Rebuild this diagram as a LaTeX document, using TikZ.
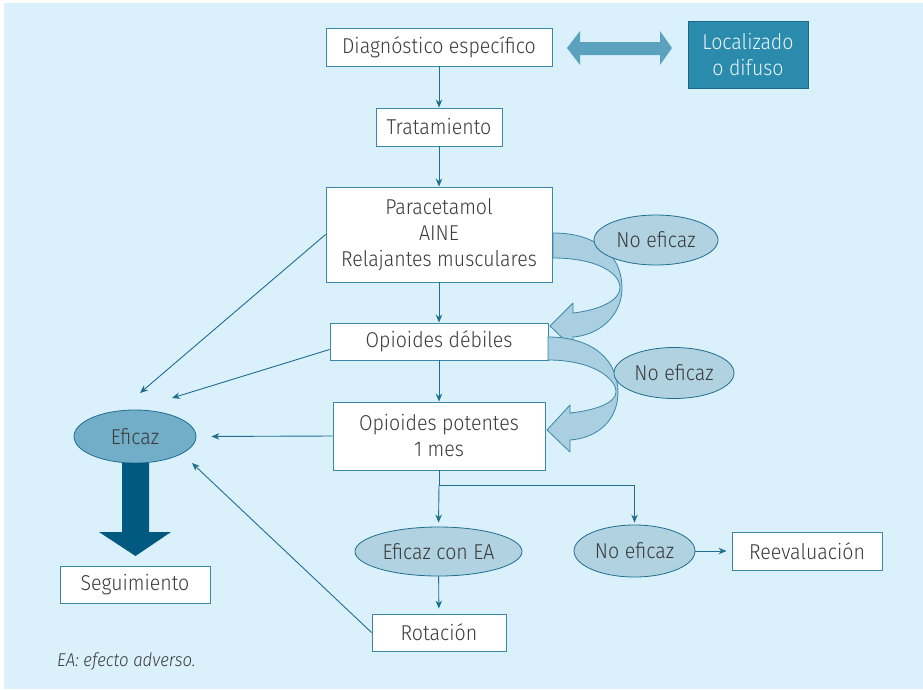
\documentclass[tikz,border=0pt]{standalone}
\usepackage{fontspec}
\setmainfont{Fira Sans}[UprightFont={* Light},ItalicFont={* Light Italic},FakeStretch=0.91]
\usetikzlibrary{arrows.meta,shapes.geometric,calc}
\definecolor{bgblue}{HTML}{DAF1FC}
\definecolor{boxline}{HTML}{3A87A9}
\definecolor{conn}{HTML}{1F6E8F}
\definecolor{ellfill}{HTML}{B0D2E1}
\definecolor{effill}{HTML}{72AEC8}
\definecolor{bigarrow}{HTML}{005A80}
\definecolor{locfill}{HTML}{2A8BAD}
\definecolor{locline}{HTML}{1A6888}
\definecolor{txt}{HTML}{3A3A3A}
\definecolor{dbl}{HTML}{5AA2BE}
\definecolor{band}{HTML}{A9CFE0}
\definecolor{bandline}{HTML}{3A86A8}
\tikzset{
  stepbox/.style={draw=boxline,line width=0.9pt,fill=white,text=txt,inner sep=0pt,
    font=\fontsize{21.5}{26}\selectfont,align=center},
  oval/.style={ellipse,draw=conn,line width=0.8pt,fill=ellfill,text=txt,inner sep=0pt,
    font=\fontsize{21.5}{26}\selectfont},
  arr/.style={draw=conn,line width=0.9pt,-{Stealth[length=8pt,width=6.5pt]}},
  bandarrow/.style={fill=band,draw=bandline,line width=0.8pt,line join=round},
}
\begin{document}
\begin{tikzpicture}[x=1pt,y=-1pt]
\useasboundingbox (0,0) rectangle (923,689);
\fill[white] (0,0) rectangle (923,689);
\fill[bgblue] (4,3) rectangle (923,689);

% main column of steps
\node[stepbox,minimum width=226pt,minimum height=38pt] (diag) at (439,47) {Diagnóstico específico};
\node[stepbox,minimum width=126pt,minimum height=38pt] (trat) at (439,127) {Tratamiento};
\node[stepbox,minimum width=226pt,minimum height=95pt] (parac) at (439,234.5) {Paracetamol\\AINE\\Relajantes musculares};
\node[stepbox,minimum width=218pt,minimum height=37pt] (opd) at (439,341.5) {Opioides débiles};
\node[stepbox,minimum width=212pt,minimum height=68pt] (opp) at (439,436) {Opioides potentes\\1 mes};
\node[stepbox,minimum width=150pt,minimum height=37pt] (segu) at (135,584.5) {Seguimiento};
\node[stepbox,minimum width=150pt,minimum height=38pt] (reev) at (807,551) {Reevaluación};
\node[stepbox,minimum width=134pt,minimum height=37pt] (rot) at (439,632.5) {Rotación};
\node[stepbox,draw=locline,fill=locfill,text=white!90!locfill,minimum width=120pt,minimum height=67pt] (loc) at (748,54.5) {Localizado\\o difuso};

% double-headed arrow between diagnosis and its type
\fill[dbl] (567,48) -- (580,31) -- (580,42) -- (660,42) -- (660,31) -- (672,48)
  -- (660,65) -- (660,55) -- (580,55) -- (580,65) -- cycle;

% curved escalation arrows
\draw[bandarrow] (553,233) .. controls (600,233) and (622,258) .. (622,288)
  .. controls (622,315) and (600,335) .. (573,337) -- (573,348) -- (550,326)
  -- (573,303) -- (573,313) .. controls (600,310) and (620,300) .. (620,288)
  .. controls (620,272) and (595,258) .. (553,258) -- cycle;
\draw[bandarrow] (548,337) .. controls (595,337) and (618,362) .. (618,392)
  .. controls (618,420) and (598,438) .. (570,440) -- (570,452) -- (547,430)
  -- (570,405) -- (570,413) .. controls (598,410) and (616,402) .. (616,392)
  .. controls (616,378) and (592,360) .. (548,360) -- cycle;

% outcome ellipses
\node[oval,fill=effill,minimum width=122pt,minimum height=53pt] (eficaz) at (135,436.5) {Eficaz};
\node[oval,minimum width=124pt,minimum height=50pt] (noef1) at (656,240) {No eficaz};
\node[oval,minimum width=120pt,minimum height=51pt] (noef2) at (674,373) {No eficaz};
\node[oval,minimum width=167pt,minimum height=49pt] (efea) at (438.5,551.5) {Eficaz con EA};
\node[oval,minimum width=121pt,minimum height=52pt] (noef3) at (634.5,551) {No eficaz};

% broad arrow down to follow-up
\fill[bigarrow] (122,463) -- (149,463) -- (149,532) -- (171,532) -- (135.5,556)
  -- (99,532) -- (122,532) -- cycle;

% connectors
\draw[arr] (diag) -- (trat);
\draw[arr] (trat) -- (parac);
\draw[arr] (parac) -- (opd);
\draw[arr] (opd) -- (opp);
\coordinate (jn) at (439,485);
\draw[conn,line width=0.9pt] (opp.south) -- (jn);
\draw[arr,shorten >=4pt] (jn) -- (efea.north);
\draw[arr,shorten >=2pt] (jn) -| (noef3.north);
\draw[arr,shorten >=5pt] (efea) -- (rot);
\draw[arr,shorten >=5pt] (noef3) -- (reev);

\coordinate (tipA) at (140,393);
\coordinate (tipB) at (172,398);
\coordinate (tipD) at (192,463);
\draw[arr] (parac.west) -- (tipA);
\draw[arr] ($(opd.west)+(0,8)$) -- (tipB);
\draw[arr,shorten >=15pt] (opp.west) -- (eficaz.east);
\draw[arr] (rot.west) -- (tipD);

% footnote
\node[anchor=base west,inner sep=0pt,text=txt,font=\fontsize{18.5}{22}\selectfont\itshape] (nota) at (57,666) {EA: efecto adverso.};
\end{tikzpicture}
\end{document}
